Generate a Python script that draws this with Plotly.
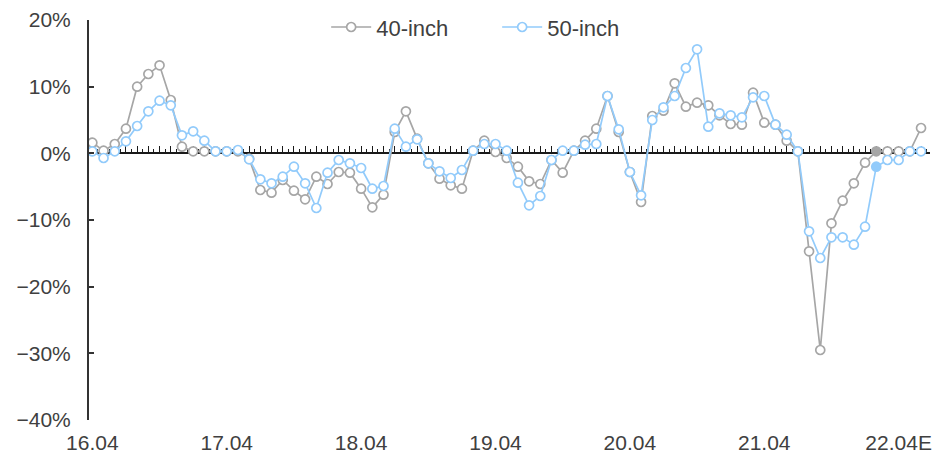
import plotly.graph_objects as go

# Monthly periods 16.04 ... 22.06 (index positions), labels every 12 months
months = [f"{16 + (3 + i) // 12:02d}.{(3 + i) % 12 + 1:02d}" for i in range(75)]
tick_labels = ["16.04", "17.04", "18.04", "19.04", "20.04", "21.04", "22.04E"]

inch40 = [1.6, 0.4, 1.4, 3.7, 10.0, 11.9, 13.2, 8.0, 1.0, 0.3,
          0.3, 0.3, 0.3, 0.3, -0.8, -5.5, -5.9, -4.0, -5.6, -6.9,
          -3.5, -4.6, -2.8, -2.9, -5.3, -8.1, -6.2, 3.2, 6.3, 2.2,
          -1.5, -3.8, -4.8, -5.3, 0.4, 1.9, 0.2, -0.7, -2.0, -4.2,
          -4.6, -1.0, -2.9, 0.4, 1.9, 3.7, 8.6, 3.2, -2.8, -7.3,
          5.6, 6.4, 10.5, 7.0, 7.6, 7.2, 5.7, 4.4, 4.3, 9.1,
          4.6, 4.3, 1.9, 0.3, -14.7, -29.5, -10.5, -7.1, -4.5, -1.4,
          0.3, 0.3, 0.3, 0.3, 3.8]

inch50 = [0.3, -0.7, 0.3, 1.8, 4.1, 6.3, 7.9, 7.2, 2.7, 3.3,
          1.9, 0.3, 0.3, 0.5, -0.9, -3.9, -4.5, -3.5, -2.0, -4.5,
          -8.2, -2.9, -1.0, -1.5, -2.2, -5.3, -4.9, 3.7, 1.0, 2.1,
          -1.5, -2.7, -3.7, -2.5, 0.4, 1.4, 1.4, 0.4, -4.4, -7.8,
          -6.4, -1.0, 0.4, 0.4, 1.3, 1.4, 8.6, 3.6, -2.8, -6.3,
          5.0, 6.9, 8.6, 12.8, 15.6, 4.0, 6.0, 5.7, 5.4, 8.4,
          8.6, 4.3, 2.8, 0.3, -11.7, -15.7, -12.6, -12.6, -13.7, -11.0,
          -2.0, -1.0, -1.0, 0.3, 0.3]

latest_actual = "22.02"

GRAY = "#A6A6A6"
BLUE = "#92CBFB"
TXT = "#404040"
FONT = "Liberation Sans, Arial, sans-serif"
FS = 21

x = list(range(len(months)))
li = months.index(latest_actual)
gray_fill = [GRAY if i == li else "white" for i in x]
blue_fill = [BLUE if i == li else "white" for i in x]

fig = go.Figure()
fig.add_trace(go.Scatter(
    x=x, y=inch40, name="40-inch", mode="lines+markers",
    line=dict(color=GRAY, width=1.7),
    marker=dict(symbol="circle", size=9, color=gray_fill,
                line=dict(color=GRAY, width=1.7)),
    customdata=months, hovertemplate="%{customdata}: %{y}%<extra>40-inch</extra>",
))
fig.add_trace(go.Scatter(
    x=x, y=inch50, name="50-inch", mode="lines+markers", xaxis="x2",
    line=dict(color=BLUE, width=1.7),
    marker=dict(symbol="circle", size=9, color=blue_fill,
                line=dict(color=BLUE, width=1.7)),
    customdata=months, hovertemplate="%{customdata}: %{y}%<extra>50-inch</extra>",
))

xr = [-0.3, 74.8]
fig.update_layout(
    width=933, height=451,
    margin=dict(l=81, r=11, t=12, b=39, autoexpand=False),
    paper_bgcolor="white", plot_bgcolor="white",
    font=dict(family=FONT, size=FS, color=TXT),
    showlegend=True,
    legend=dict(orientation="h", x=0.282, xanchor="left", y=0.982, yanchor="middle",
                font=dict(size=22, color=TXT), bgcolor="rgba(0,0,0,0)",
                itemwidth=40, entrywidth=116, entrywidthmode="pixels",
                tracegroupgap=0),
    xaxis=dict(range=xr, tickmode="array", automargin=False,
               tickvals=[months.index(t.rstrip("E")) for t in tick_labels],
               ticktext=tick_labels, showline=False, showgrid=False, zeroline=False,
               ticks="outside", ticklen=4, tickcolor="rgba(0,0,0,0)",
               ticklabeloverflow="allow",
               tickfont=dict(size=FS, color=TXT)),
    xaxis2=dict(range=xr, overlaying="x", anchor="free", position=40 / 60,
                side="top", showline=True, linecolor="#1a1a1a", linewidth=2,
                ticks="outside", tickmode="linear", tick0=0, dtick=1, ticklen=6,
                tickwidth=1.3, tickcolor="#1a1a1a", showticklabels=False,
                showgrid=False, zeroline=False, layer="below traces", automargin=False,
                minor=dict(ticks="outside", dtick=0.5, ticklen=3,
                           tickcolor="#1a1a1a", tickwidth=1.3)),
    yaxis=dict(range=[-40, 20], dtick=10, tick0=0, ticksuffix="%", automargin=False,
               showline=True, linecolor="#333333", linewidth=2,
               ticks="inside", ticklen=5, tickwidth=2, tickcolor="#333333",
               showgrid=False, zeroline=False, ticklabelstandoff=12,
               ticklabeloverflow="allow",
               tickfont=dict(size=FS, color=TXT)),
)

fig.write_html("out.html")
